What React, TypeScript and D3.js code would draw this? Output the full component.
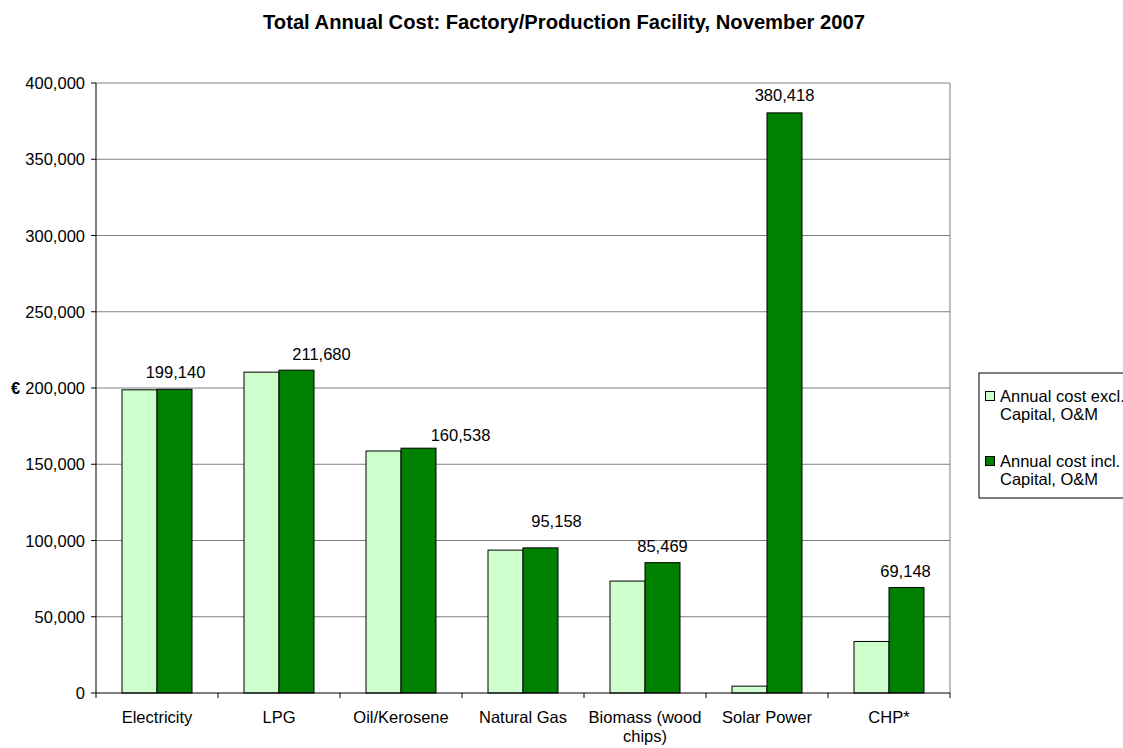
import React from "react";
import * as d3 from "d3";

const categories = ["Electricity", "LPG", "Oil/Kerosene", "Natural Gas", "Biomass (wood chips)", "Solar Power", "CHP*"];
const exclValues = [198800, 210400, 158700, 93700, 73400, 4500, 33800];
const inclValues = [199140, 211680, 160538, 95158, 85469, 380418, 69148];
const seriesNames = ["Annual cost excl. Capital, O&M", "Annual cost incl. Capital, O&M"];
const yTicks = [0, 50000, 100000, 150000, 200000, 250000, 300000, 350000, 400000];
// label nudges (layout only): dx, dy relative to default position
const labelNudgeX = [1, 25, 42, 16, 0, 0, -1];
const labelNudgeY = [0, 1, 4, -10, 0, -1, 0];

const W = 1123, H = 748;
const left = 96, right = 950, top = 83, bottom = 693;
const font = "'Liberation Sans', Arial, sans-serif";
const fs = 16.5;

export default function App() {
  const x0 = d3.scaleBand<string>().domain(categories).range([left, right]).paddingInner(0).paddingOuter(0);
  const y = d3.scaleLinear().domain([0, 400000]).range([bottom, top]);
  const barW = 35;
  const fmt = d3.format(",");
  const groupW = barW * 2;
  const off = (x0.bandwidth() - groupW) / 2;

  return (
    <svg width={W} height={H} style={{ position: "absolute", left: 0, top: 0, fontFamily: font }}>
      <rect width={W} height={H} fill="#fff" />
      <text x={564} y={29} textAnchor="middle" fontSize={20.2} fontWeight="bold">
        Total Annual Cost: Factory/Production Facility, November 2007
      </text>
      {/* gridlines */}
      {yTicks.slice(1).map((t) => (
        <line key={t} x1={left} x2={right} y1={y(t)} y2={y(t)} stroke="#808080" strokeWidth={1} />
      ))}
      <line x1={right} x2={right} y1={top} y2={bottom} stroke="#808080" strokeWidth={1} />
      {/* bars */}
      {categories.map((c, i) => {
        const gx = (x0(c) as number) + off;
        return (
          <g key={c}>
            <rect x={gx} y={y(exclValues[i])} width={barW} height={bottom - y(exclValues[i])} fill="#CCFFCC" stroke="#000" strokeWidth={1} />
            <rect x={gx + barW} y={y(inclValues[i])} width={barW} height={bottom - y(inclValues[i])} fill="#008000" stroke="#000" strokeWidth={1} />
            <text x={gx + barW * 1.5 + labelNudgeX[i]} y={y(inclValues[i]) - 11 + labelNudgeY[i]} textAnchor="middle" fontSize={fs}>
              {fmt(inclValues[i])}
            </text>
          </g>
        );
      })}
      {/* axes */}
      <line x1={left} x2={left} y1={top} y2={bottom} stroke="#000" />
      <line x1={left} x2={right} y1={bottom} y2={bottom} stroke="#000" />
      {yTicks.map((t) => (
        <g key={t}>
          <line x1={left - 5} x2={left} y1={y(t)} y2={y(t)} stroke="#000" />
          <text x={left - 11} y={y(t) + 6} textAnchor="end" fontSize={fs}>{fmt(t)}</text>
        </g>
      ))}
      {categories.map((c) => (
        <line key={c} x1={(x0(c) as number)} x2={(x0(c) as number)} y1={bottom} y2={bottom + 5} stroke="#000" />
      ))}
      <line x1={right} x2={right} y1={bottom} y2={bottom + 5} stroke="#000" />
      {categories.map((c) => {
        const cx = (x0(c) as number) + x0.bandwidth() / 2;
        const parts = c === "Biomass (wood chips)" ? ["Biomass (wood", "chips)"] : [c];
        return (
          <text key={c} x={cx} y={723} textAnchor="middle" fontSize={fs}>
            {parts.map((p, k) => (
              <tspan key={k} x={cx} dy={k === 0 ? 0 : 19}>{p}</tspan>
            ))}
          </text>
        );
      })}
      <text x={11} y={394} fontSize={fs} fontWeight="bold">€</text>
      {/* legend */}
      <rect x={979} y={373} width={160} height={125} fill="#fff" stroke="#000" strokeWidth={1} />
      {seriesNames.map((s, i) => {
        const ly = 391 + i * 65;
        const words = s.split(" Capital");
        return (
          <g key={s}>
            <rect x={985.5} y={ly + 0.5} width={9} height={9} fill={i === 0 ? "#CCFFCC" : "#008000"} stroke="#000" />
            <text x={1000} y={ly + 11} fontSize={fs}>{words[0]}</text>
            <text x={1000} y={ly + 29} fontSize={fs}>{"Capital" + words[1]}</text>
          </g>
        );
      })}
    </svg>
  );
}
